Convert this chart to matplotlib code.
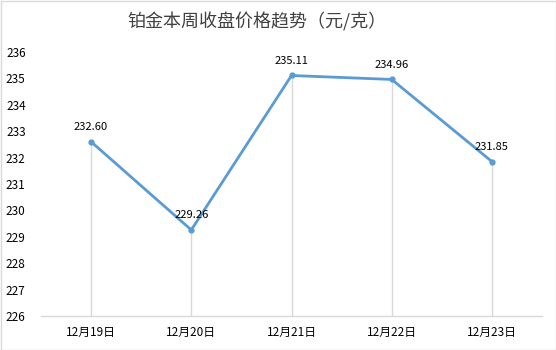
import matplotlib
matplotlib.use("Agg")
import matplotlib.pyplot as plt
from matplotlib.patches import Rectangle

plt.rcParams['font.family'] = ['Noto Sans CJK SC', 'DejaVu Sans']

title = "铂金本周收盘价格趋势（元/克）"
dates = ["12月19日", "12月20日", "12月21日", "12月22日", "12月23日"]
prices = [232.60, 229.26, 235.11, 234.96, 231.85]
yticks = list(range(226, 237))

fig = plt.figure(figsize=(5.56, 3.5), dpi=100)
ax = fig.add_axes([41/556, 1-316/350, (542-41)/556, (316-52)/350])

x = list(range(len(dates)))
ymin, ymax = 226, 236
ax.set_xlim(-0.5, len(dates)-0.5)
ax.set_ylim(ymin, ymax)

ax.vlines(x, ymin, prices, colors="#D9D9D9", linewidth=1, zorder=1)
ax.plot(x, prices, color="#5B9BD5", linewidth=2, marker="o", markersize=3.5, zorder=3)

for xi, v in zip(x, prices):
    ax.annotate(f"{v:.2f}", (xi, v), xytext=(0, 7), textcoords="offset points",
                ha="center", va="bottom", fontsize=8, color="#000000", zorder=4)

ax.set_xticks(x)
ax.set_xticklabels(dates, fontsize=8.5)
ax.set_yticks(yticks)
ax.set_yticklabels([str(t) for t in yticks], fontsize=8.5)
ax.tick_params(axis='both', length=0)
ax.tick_params(axis='y', pad=11)
ax.tick_params(axis='x', pad=7)

for s in ["top", "right", "left"]:
    ax.spines[s].set_visible(False)
ax.spines["bottom"].set_color("#D9D9D9")
ax.spines["bottom"].set_linewidth(1)

fig.text(256.5/556, 1-22/350, title, ha="center", va="center", fontsize=13, color="#404040")

fig.patches.append(Rectangle((0.5/556, 0.5/350), 1-1/556, 1-1/350, transform=fig.transFigure,
                             fill=False, edgecolor="#D9D9D9", linewidth=1))

fig.savefig("out.png", dpi=100)
